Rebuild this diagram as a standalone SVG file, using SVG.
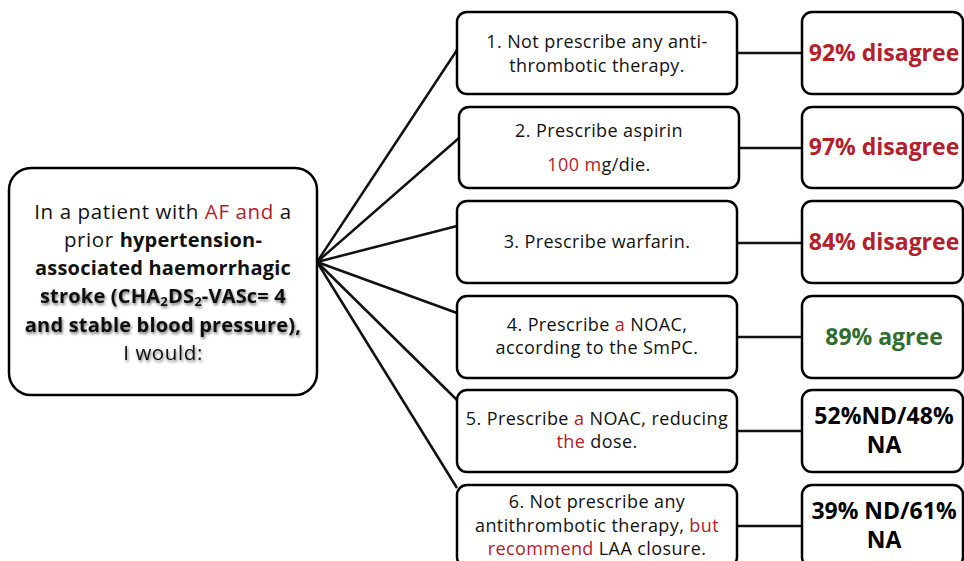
<svg xmlns="http://www.w3.org/2000/svg" width="964" height="561" viewBox="0 0 964 561">
<defs>
<style>
.box{fill:#fff;stroke:#000;stroke-width:2.5}
.conn line{stroke:#111;stroke-width:2.5}
.t{font-family:"Open Sans","Noto Sans",sans-serif;font-size:18px;letter-spacing:0.4px;fill:#111;text-anchor:middle}
.m{font-family:"Open Sans","Noto Sans",sans-serif;font-size:20.5px;letter-spacing:0.6px;fill:#111;text-anchor:middle}
.r{font-family:"Open Sans","Noto Sans",sans-serif;font-size:23px;font-weight:bold;text-anchor:middle}
.red{fill:#B3202A}
.green{fill:#2E6E2E}
.blk{fill:#000}
.b{font-weight:bold;font-size:20px;letter-spacing:0.2px}
</style>
<filter id="sh" x="-10%" y="-30%" width="120%" height="160%">
<feGaussianBlur in="SourceAlpha" stdDeviation="1.6"/>
<feOffset dx="1" dy="1.5" result="o"/>
<feComponentTransfer><feFuncA type="linear" slope="0.55"/></feComponentTransfer>
<feMerge><feMergeNode/><feMergeNode in="SourceGraphic"/></feMerge>
</filter>
</defs>
<rect width="964" height="561" fill="#fff"/>
<g id="connectors" class="conn">
<line x1="317" y1="262" x2="457" y2="50"/>
<line x1="317" y1="262" x2="459" y2="138"/>
<line x1="317" y1="262" x2="457" y2="226"/>
<line x1="317" y1="262" x2="457" y2="313"/>
<line x1="317" y1="262" x2="457" y2="400"/>
<line x1="317" y1="262" x2="457" y2="488"/>
<line x1="737" y1="53" x2="802" y2="53"/>
<line x1="739" y1="148" x2="802" y2="148"/>
<line x1="737" y1="243" x2="802" y2="243"/>
<line x1="737" y1="337" x2="802" y2="337"/>
<line x1="737" y1="431" x2="802" y2="431"/>
<line x1="737" y1="526" x2="802" y2="526"/>
</g>
<g id="question">
<rect class="box" x="9" y="168" width="308" height="227" rx="22"/>
<text class="m" x="163" y="219">In a patient with <tspan class="red">AF and</tspan> a</text>
<text class="m" x="163" y="247">prior <tspan class="b">hypertension-</tspan></text>
<text class="m b" x="163" y="275">associated haemorrhagic</text>
<text class="m b" x="163" y="303" filter="url(#sh)">stroke (CHA<tspan font-size="13" dy="3">2</tspan><tspan dy="-3">DS</tspan><tspan font-size="13" dy="3">2</tspan><tspan dy="-3">-VASc= 4</tspan></text>
<text class="m b" x="163" y="332" filter="url(#sh)">and stable blood pressure),</text>
<text class="m" x="163" y="360" filter="url(#sh)">I would:</text>
</g>
<g id="opt1">
<rect class="box" x="457" y="12" width="280" height="82" rx="10"/>
<text class="t" x="597" y="48">1. Not prescribe any anti-</text>
<text class="t" x="597" y="72">thrombotic therapy.</text>
</g>
<g id="opt2">
<rect class="box" x="459" y="107" width="280" height="81" rx="10"/>
<text class="t" x="599" y="137">2. Prescribe aspirin</text>
<text class="t" x="599" y="171"><tspan class="red">100 m</tspan>g/die.</text>
</g>
<g id="opt3">
<rect class="box" x="457" y="201" width="280" height="82" rx="10"/>
<text class="t" x="597" y="248">3. Prescribe warfarin.</text>
</g>
<g id="opt4">
<rect class="box" x="457" y="296" width="280" height="82" rx="10"/>
<text class="t" x="597" y="331">4. Prescribe <tspan class="red">a</tspan> NOAC,</text>
<text class="t" x="597" y="354">according to the SmPC.</text>
</g>
<g id="opt5">
<rect class="box" x="457" y="390" width="280" height="82" rx="10"/>
<text class="t" x="597" y="425">5. Prescribe <tspan class="red">a</tspan> NOAC, reducing</text>
<text class="t" x="597" y="448"><tspan class="red">the</tspan> dose.</text>
</g>
<g id="opt6">
<rect class="box" x="457" y="485" width="280" height="82" rx="10"/>
<text class="t" x="597" y="508">6. Not prescribe any</text>
<text class="t" x="597" y="532">antithrombotic therapy, <tspan class="red">but</tspan></text>
<text class="t" x="597" y="555"><tspan class="red">recommend</tspan> LAA closure.</text>
</g>
<g id="res1">
<rect class="box" x="802" y="12" width="161" height="82" rx="10"/>
<text class="r red" x="884" y="61">92% disagree</text>
</g>
<g id="res2">
<rect class="box" x="802" y="107" width="161" height="81" rx="10"/>
<text class="r red" x="884" y="155">97% disagree</text>
</g>
<g id="res3">
<rect class="box" x="802" y="201" width="161" height="82" rx="10"/>
<text class="r red" x="884" y="250">84% disagree</text>
</g>
<g id="res4">
<rect class="box" x="802" y="296" width="161" height="82" rx="10"/>
<text class="r green" x="884" y="345">89% agree</text>
</g>
<g id="res5">
<rect class="box" x="802" y="390" width="161" height="82" rx="10"/>
<text class="r blk" x="884" y="424">52%ND/48%</text>
<text class="r blk" x="884" y="453">NA</text>
</g>
<g id="res6">
<rect class="box" x="802" y="485" width="161" height="82" rx="10"/>
<text class="r blk" x="884" y="519">39% ND/61%</text>
<text class="r blk" x="884" y="548">NA</text>
</g>
</svg>
